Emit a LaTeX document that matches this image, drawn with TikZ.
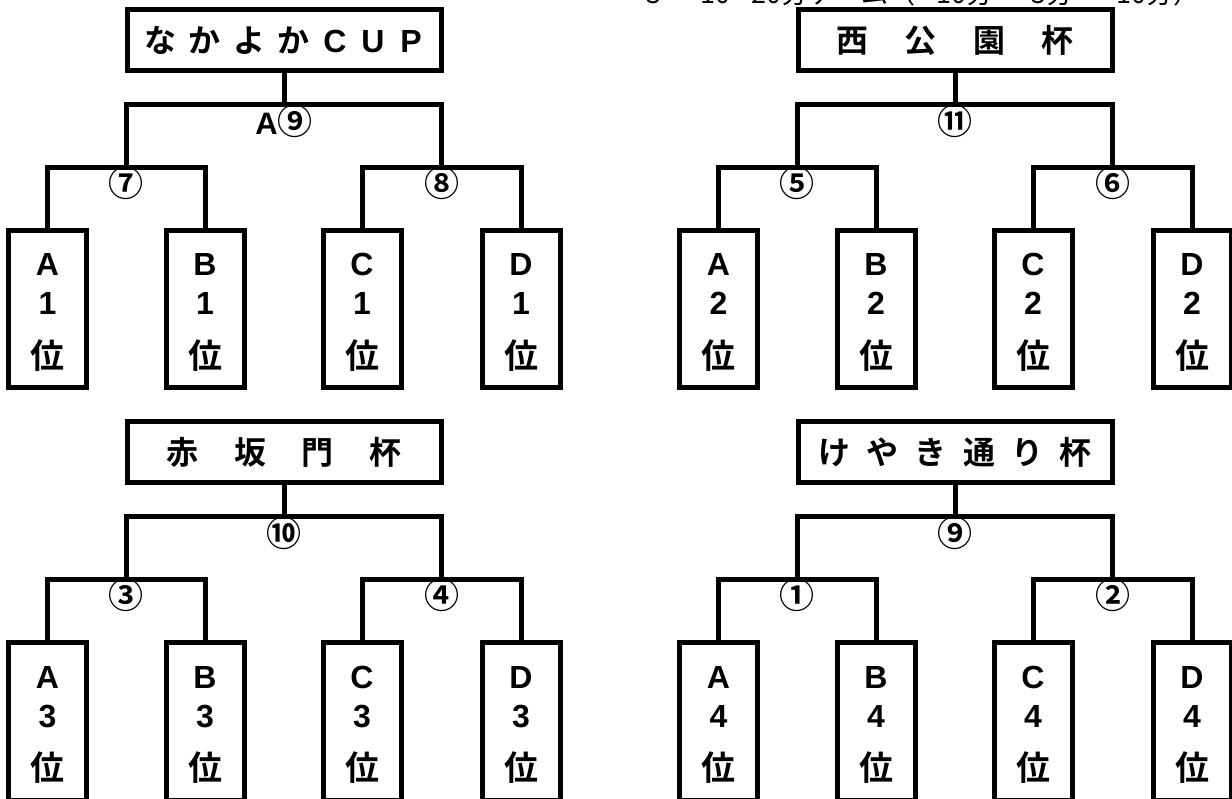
\documentclass[tikz,border=0pt]{standalone}
\usepackage{fontspec}
\newfontfamily\jp{Noto Sans CJK JP}[BoldFont={Noto Sans CJK JP Bold}]
\newfontfamily\lat{Liberation Sans}
\newcommand\cb[2]{\makebox[#1pt][c]{#2}}
\tikzset{
  titlebox/.style={draw, line width=5pt, minimum width=314pt, minimum height=61pt, inner sep=0pt, font=\jp\bfseries\fontsize{32}{32}\selectfont},
  leafbox/.style={draw, line width=5pt, minimum width=78pt, minimum height=157.5pt, inner sep=0pt},
  leafltr/.style={anchor=base, inner sep=0pt, font=\lat\bfseries\fontsize{32}{32}\selectfont},
  leafkanji/.style={anchor=center, inner sep=0pt, font=\jp\bfseries\fontsize{34}{34}\selectfont},
  matchlbl/.style={anchor=center, inner sep=0pt, font=\jp\bfseries\fontsize{35}{35}\selectfont},
  conn/.style={line width=5pt, line join=miter},
  captxt/.style={anchor=base west, inner sep=0pt, font=\jp\fontsize{27}{27}\selectfont}
}
% #1 name, #2 ox, #3 oy, #4 title, #5 final label, #6 left label, #7 right label, #8 rank
\newcommand\mybracket[8]{%
  \begin{scope}[shift={(#2,#3)}]
    \node[titlebox] (#1t) at (284,40) {#4};
    \coordinate (#1top) at (284,104.5);
    \coordinate (#1jl) at (126.25,167.5);
    \coordinate (#1jr) at (441.5,167.5);
    \node[leafbox] (#1a) at (47.5,309.25) {};
    \node[leafbox] (#1b) at (205,309.25) {};
    \node[leafbox] (#1c) at (362,309.25) {};
    \node[leafbox] (#1d) at (521,309.25) {};
    \foreach \p/\q in {a/A,b/B,c/C,d/D}{
      \node[leafltr] (#1\p l1) at ($(#1\p.center)+(0,-33.25)$) {\q};
      \node[leafltr] (#1\p l2) at ($(#1\p.center)+(0,5.75)$) {#8};
      \node[leafkanji] (#1\p l3) at ($(#1\p.center)+(0,46.75)$) {位};
    }
    \draw[conn] (#1t.south) -- (#1top);
    \draw[conn] (#1jl) |- (#1top) -| (#1jr);
    \draw[conn] (#1a.north) |- (#1jl) -| (#1b.north);
    \draw[conn] (#1c.north) |- (#1jr) -| (#1d.north);
    \node[matchlbl] (#1fl) at (284,121.5) {#5};
    \node[matchlbl] (#1ll) at (126.25,183.5) {#6};
    \node[matchlbl] (#1rl) at (441.5,183.5) {#7};
  \end{scope}}
\usetikzlibrary{calc}
\begin{document}
\begin{tikzpicture}[x=1pt,y=-1pt]
\useasboundingbox[fill=white] (0,0) rectangle (1232,799);
\mybracket{P}{0}{0}{\cb{44.5}{な}\cb{44.5}{か}\cb{44.5}{よ}\cb{44.5}{か}{\lat\cb{38}{C}\cb{38}{U}\cb{38}{P}}}{{\lat\fontsize{31}{31}\selectfont A}⑨}{⑦}{⑧}{1}
\mybracket{Q}{671}{0}{\cb{68.5}{西}\cb{68.5}{公}\cb{68.5}{園}\cb{68.5}{杯}}{⑪}{⑤}{⑥}{2}
\mybracket{R}{0}{412}{\cb{67.5}{赤}\cb{67.5}{坂}\cb{67.5}{門}\cb{67.5}{杯}}{⑩}{③}{④}{3}
\mybracket{S}{671}{412}{\cb{48.3}{け}\cb{48.3}{や}\cb{48.3}{き}\cb{48.3}{通}\cb{48.3}{り}\cb{48.3}{杯}}{⑨}{①}{②}{4}
\node[captxt] (cap) at (646,3.5) {\makebox[54pt][l]{3 －}\makebox[51pt][l]{10-}\makebox[185pt][l]{20分ゲーム（}\makebox[95pt][l]{10分－}\makebox[85pt][l]{5分－}10分）};
\end{tikzpicture}
\end{document}
